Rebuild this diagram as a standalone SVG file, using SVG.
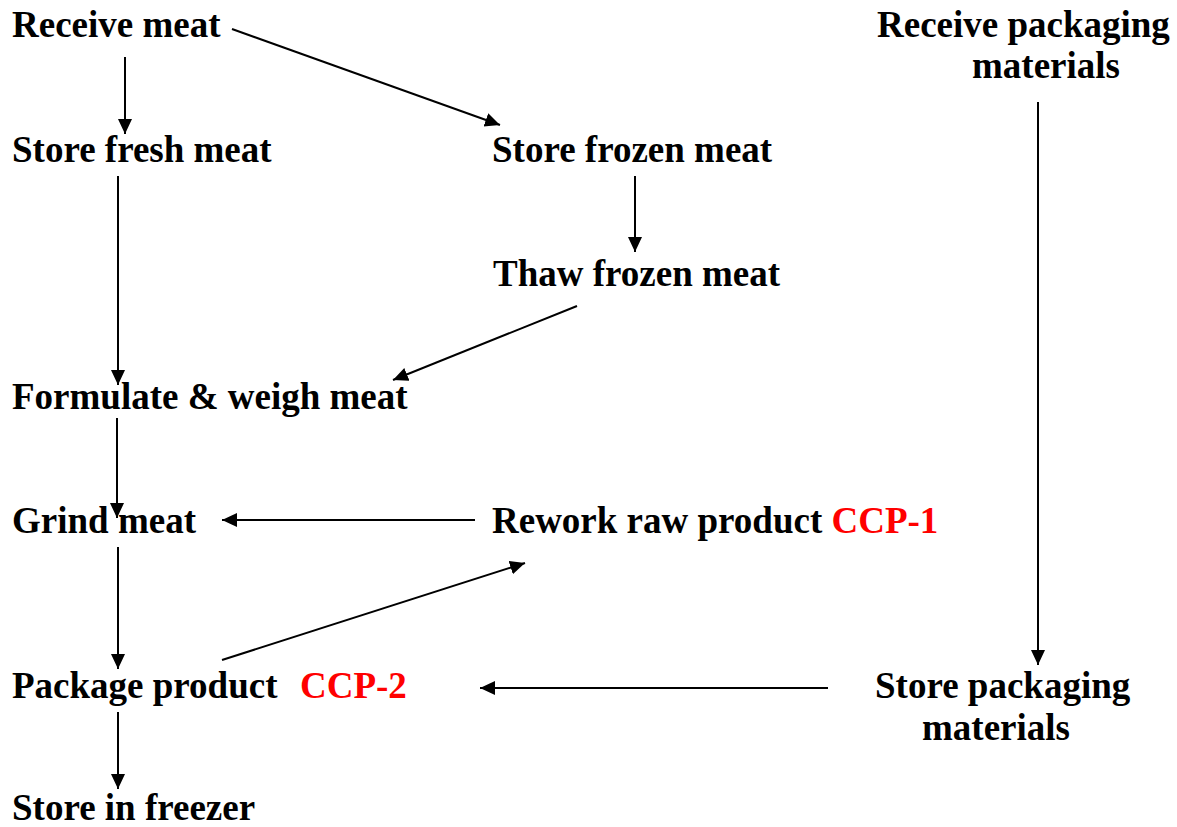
<svg xmlns="http://www.w3.org/2000/svg" width="1177" height="827" viewBox="0 0 1177 827">
<style>
text{font-family:"Liberation Serif","Times New Roman",serif;font-weight:bold;font-size:37px;fill:#000}
.ccp{fill:#ff0000}
.c{stroke:#000;stroke-width:2;fill:none}
</style>
<defs>
<marker id="ah" markerUnits="userSpaceOnUse" markerWidth="16" markerHeight="16" refX="15" refY="7" orient="auto">
<path d="M0,0 L15,7 L0,14 z" fill="#000"/>
</marker>
</defs>
<rect width="1177" height="827" fill="#fff"/>
<g id="n-receive-meat"><text x="12" y="37">Receive meat</text></g>
<g id="n-store-fresh"><text x="12" y="162">Store fresh meat</text></g>
<g id="n-store-frozen"><text x="492" y="162">Store frozen meat</text></g>
<g id="n-thaw"><text x="493" y="286">Thaw frozen meat</text></g>
<g id="n-formulate"><text x="12" y="409">Formulate &amp; weigh meat</text></g>
<g id="n-grind"><text x="12" y="533">Grind meat</text></g>
<g id="n-rework"><text x="492" y="533">Rework raw product <tspan class="ccp">CCP-1</tspan></text></g>
<g id="n-package"><text x="12" y="698">Package product  <tspan class="ccp" x="300">CCP-2</tspan></text></g>
<g id="n-freezer"><text x="12" y="820">Store in freezer</text></g>
<g id="n-receive-pack"><text x="877" y="37">Receive packaging</text><text x="972" y="78">materials</text></g>
<g id="n-store-pack"><text x="875" y="698">Store packaging</text><text x="922" y="740">materials</text></g>
<g id="connectors" class="c" marker-end="url(#ah)">
<line class="c" x1="125" y1="57" x2="125" y2="134" marker-end="url(#ah)"/>
<line class="c" x1="232" y1="29" x2="500" y2="125" marker-end="url(#ah)"/>
<line class="c" x1="635" y1="176" x2="635" y2="252" marker-end="url(#ah)"/>
<line class="c" x1="577" y1="306" x2="393" y2="380" marker-end="url(#ah)"/>
<line class="c" x1="118" y1="176" x2="118" y2="385" marker-end="url(#ah)"/>
<line class="c" x1="117" y1="418" x2="117" y2="518" marker-end="url(#ah)"/>
<line class="c" x1="475" y1="520" x2="222" y2="520" marker-end="url(#ah)"/>
<line class="c" x1="118" y1="547" x2="118" y2="669" marker-end="url(#ah)"/>
<line class="c" x1="222" y1="660" x2="525" y2="563" marker-end="url(#ah)"/>
<line class="c" x1="828" y1="688" x2="480" y2="688" marker-end="url(#ah)"/>
<line class="c" x1="1038" y1="102" x2="1038" y2="665" marker-end="url(#ah)"/>
<line class="c" x1="118" y1="712" x2="118" y2="789" marker-end="url(#ah)"/>
</g>
</svg>
